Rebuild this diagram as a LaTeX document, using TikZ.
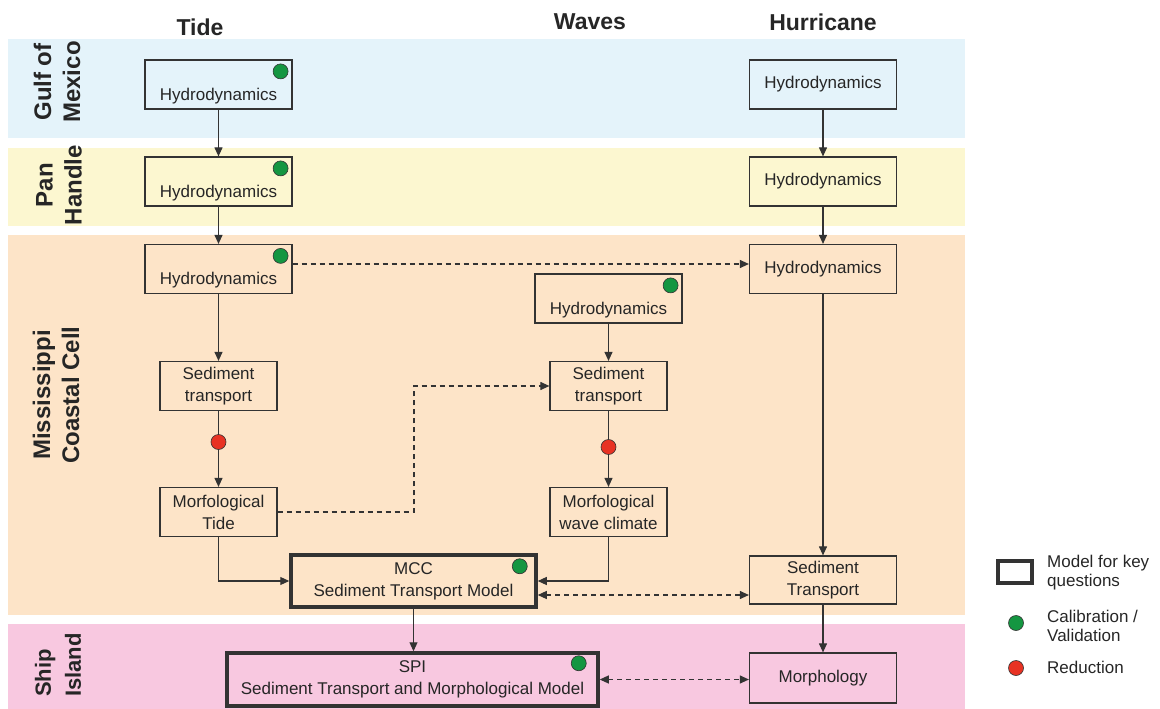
\documentclass[tikz,border=0pt]{standalone}
\usepackage{fontspec}
\setmainfont{Liberation Sans}
\usetikzlibrary{arrows.meta}
\usepackage{xcolor}
\definecolor{gulfc}{RGB}{228,243,250}
\definecolor{panc}{RGB}{252,247,208}
\definecolor{mccc}{RGB}{253,228,200}
\definecolor{shipc}{RGB}{248,200,224}
\definecolor{linec}{RGB}{51,51,51}
\definecolor{calibc}{RGB}{20,150,65}
\definecolor{redc}{RGB}{232,50,35}

\begin{document}
\begin{tikzpicture}[x=1pt,y=-1pt,
	box/.style={draw=linec,line width=1.2pt,inner sep=0pt,minimum width=147pt,minimum height=49pt,align=center,text=black!85,font=\fontsize{17}{22}\selectfont},
	smallbox/.style={box,minimum width=117pt},
	keybox/.style={box,line width=3.5pt,minimum height=52pt},
	txt/.style={inner sep=0pt,text=black!85,font=\fontsize{17}{22}\selectfont},
	gdot/.style={circle,draw=linec,line width=0.6pt,fill=calibc,minimum size=15pt,inner sep=0pt},
	rdot/.style={gdot,fill=redc},
	arr/.style={draw=linec,line width=1.1pt,-{Triangle[length=9pt,width=8pt]}},
	darr/.style={arr,dash pattern=on 5pt off 4pt},
	ddarr/.style={darr,{Triangle[length=9pt,width=8pt]}-{Triangle[length=9pt,width=8pt]}},
	head/.style={text=black!85,font=\fontsize{23}{26}\selectfont\bfseries},
	region/.style={head,rotate=90,align=center,font=\fontsize{24}{29}\selectfont\bfseries},
	legtxt/.style={anchor=west,align=left,inner sep=0pt,text=black!85,font=\fontsize{17}{19}\selectfont}]
	\useasboundingbox (0,0) rectangle (1160,709);
	\def\dy{11.5}
	\def\dd{12}
	
	\fill[gulfc] (8,39) rectangle (965,138);
	\fill[panc] (8,148) rectangle (965,226);
	\fill[mccc] (8,235) rectangle (965,615);
	\fill[shipc] (8,624) rectangle (965,709);
	
	\node[head] (tide) at (200,27) {Tide};
	\node[head] (waves) at (590,22) {Waves};
	\node[head] (hurr) at (823,22) {Hurricane};
	
	\node[region] (gom) at (57,82) {Gulf of\\Mexico};
	\node[region] (pan) at (59,185) {Pan\\Handle};
	\node[region] (mcl) at (56,395) {Mississippi\\Coastal Cell};
	\node[region,align=left,font=\fontsize{22}{30}\selectfont\bfseries] (shi) at (58,665) {Ship\\Island};
	
	% tide
	\node[box] (t1) at (218.5,84.5) {};
	\node[txt] at ([yshift=-\dy pt]t1.center) {Hydrodynamics};
	\node[gdot] at ([xshift=-\dd pt,yshift=-\dd pt]t1.north east) {};
	\node[box] (t2) at (218.5,181.5) {};
	\node[txt] at ([yshift=-\dy pt]t2.center) {Hydrodynamics};
	\node[gdot] at ([xshift=-\dd pt,yshift=-\dd pt]t2.north east) {};
	\node[box] (t3) at (218.5,269) {};
	\node[txt] at ([yshift=-\dy pt]t3.center) {Hydrodynamics};
	\node[gdot] at ([xshift=-\dd pt,yshift=-\dd pt]t3.north east) {};
	\node[smallbox] (t4) at (218.5,386) {Sediment\\transport};
	\node[rdot] (r1) at (218.5,442) {};
	\node[smallbox] (t5) at (218.5,512) {Morfological\\Tide};
	
	% waves
	\node[box] (w1) at (608.5,298.5) {};
	\node[txt] at ([yshift=-\dy pt]w1.center) {Hydrodynamics};
	\node[gdot] at ([xshift=-\dd pt,yshift=-\dd pt]w1.north east) {};
	\node[smallbox] (w2) at (608.5,386) {Sediment\\transport};
	\node[rdot] (r2) at (608.5,447) {};
	\node[smallbox] (w3) at (608.5,512) {Morfological\\wave climate};
	
	% hurricane
	\node[box] (h1) at (823,84.5) {Hydrodynamics};
	\node[box] (h2) at (823,181.5) {Hydrodynamics};
	\node[box] (h3) at (823,269) {Hydrodynamics};
	\node[box,minimum height=48pt] (h4) at (823,580) {Sediment\\Transport};
	\node[box,minimum height=50pt] (h5) at (823,678) {Morphology};
	
	% models
	\node[keybox,minimum width=245pt] (mcc) at (413.5,581) {MCC\\Sediment Transport Model};
	\node[gdot] at ([xshift=-18pt,yshift=-13pt]mcc.north east) {};
	\node[keybox,minimum width=371pt,minimum height=53pt] (spi) at (412.5,679.5) {SPI\\Sediment Transport and Morphological Model};
	\node[gdot] at ([xshift=-21pt,yshift=-12pt]spi.north east) {};
	
	\draw[arr] (t1) -- (t2);
	\draw[arr] (t2) -- (t3);
	\draw[arr] (t3) -- (t4);
	\draw[draw=linec,line width=1.1pt] (t4) -- (r1);
	\draw[arr] (r1) -- (t5);
	\draw[arr] (t5.south) |- (mcc.west);
	
	\draw[arr] (w1) -- (w2);
	\draw[draw=linec,line width=1.1pt] (w2) -- (r2);
	\draw[arr] (r2) -- (w3);
	\draw[arr] (w3.south) |- (mcc.east);
	
	\draw[arr] (h1) -- (h2);
	\draw[arr] (h2) -- (h3);
	\draw[arr] (h3) -- (h4);
	\draw[arr] (h4) -- (h5);
	
	\draw[arr] (mcc.south) -- (mcc.south |- spi.north);
	
	\coordinate (tbend) at (414,0);
	\draw[darr] ([yshift=5pt]t3.east) -- ([yshift=5pt]t3.east -| h3.west);
	\draw[darr] (t5.east) -| (tbend |- w2.west) -- (w2.west);
	\draw[ddarr] ([yshift=-14pt]mcc.east) -- ([yshift=-14pt]mcc.east -| h4.west);
	\draw[ddarr] (spi.east) -- (spi.east -| h5.west);
	
	% legend
	\node[keybox,minimum width=34pt,minimum height=22pt,line width=4pt] (lkey) at (1015,572) {};
	\node[legtxt] (lkeyt) at (1047,573) {Model for key\\questions};
	\node[gdot] (lcal) at (1016,623) {};
	\node[legtxt] (lcalt) at (1047,626) {Calibration /\\Validation};
	\node[rdot] (lred) at (1016,668) {};
	\node[legtxt] (lredt) at (1047,667) {Reduction};
\end{tikzpicture}
\end{document}
